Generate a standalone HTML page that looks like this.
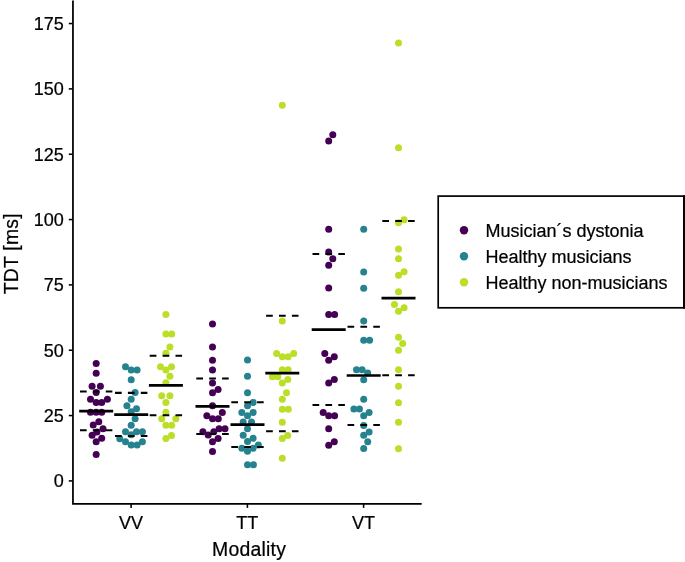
<!DOCTYPE html>
<html><head><meta charset="utf-8"><title>TDT by modality</title>
<style>
html,body{margin:0;padding:0;background:#fff;}
body{width:685px;height:562px;overflow:hidden;}
svg{display:block;will-change:transform;}
text{font-family:"Liberation Sans",sans-serif;fill:#000;stroke:#000;stroke-width:0.22px;}
.tk{font-size:18.05px;}
.tt{font-size:19.4px;letter-spacing:0.22px;}
.lg{font-size:18.0px;}
</style></head><body>
<svg width="685" height="562" viewBox="0 0 685 562">
<rect width="685" height="562" fill="#fff"/>
<g fill="#440154"><circle cx="96.17" cy="363.45" r="3.50"/><circle cx="96.17" cy="373.21" r="3.50"/><circle cx="92.10" cy="386.25" r="3.50"/><circle cx="100.40" cy="386.25" r="3.50"/><circle cx="96.17" cy="392.55" r="3.50"/><circle cx="90.50" cy="399.25" r="3.50"/><circle cx="96.17" cy="402.45" r="3.50"/><circle cx="101.70" cy="402.45" r="3.50"/><circle cx="107.40" cy="399.25" r="3.50"/><circle cx="90.50" cy="412.25" r="3.50"/><circle cx="96.17" cy="412.25" r="3.50"/><circle cx="101.70" cy="412.25" r="3.50"/><circle cx="98.80" cy="421.85" r="3.50"/><circle cx="93.20" cy="425.05" r="3.50"/><circle cx="103.00" cy="428.75" r="3.50"/><circle cx="96.90" cy="431.95" r="3.50"/><circle cx="92.10" cy="435.15" r="3.50"/><circle cx="101.70" cy="438.35" r="3.50"/><circle cx="96.17" cy="441.80" r="3.50"/><circle cx="96.17" cy="454.40" r="3.50"/></g>
<g fill="#26828E"><circle cx="125.50" cy="366.65" r="3.50"/><circle cx="131.20" cy="369.90" r="3.50"/><circle cx="137.10" cy="369.90" r="3.50"/><circle cx="131.20" cy="379.75" r="3.50"/><circle cx="135.10" cy="392.55" r="3.50"/><circle cx="131.20" cy="399.21" r="3.50"/><circle cx="126.90" cy="405.65" r="3.50"/><circle cx="136.50" cy="408.85" r="3.50"/><circle cx="131.20" cy="411.65" r="3.50"/><circle cx="135.10" cy="418.65" r="3.50"/><circle cx="131.20" cy="425.35" r="3.50"/><circle cx="125.50" cy="431.75" r="3.50"/><circle cx="131.20" cy="434.85" r="3.50"/><circle cx="136.50" cy="431.75" r="3.50"/><circle cx="142.40" cy="431.75" r="3.50"/><circle cx="119.80" cy="438.75" r="3.50"/><circle cx="125.50" cy="441.80" r="3.50"/><circle cx="131.20" cy="445.05" r="3.50"/><circle cx="137.10" cy="445.05" r="3.50"/><circle cx="142.40" cy="441.80" r="3.50"/></g>
<g fill="#BBDF27"><circle cx="165.90" cy="314.45" r="3.50"/><circle cx="165.90" cy="333.95" r="3.50"/><circle cx="171.70" cy="333.95" r="3.50"/><circle cx="169.90" cy="347.00" r="3.50"/><circle cx="165.90" cy="353.25" r="3.50"/><circle cx="160.50" cy="366.65" r="3.50"/><circle cx="171.50" cy="366.65" r="3.50"/><circle cx="165.90" cy="369.90" r="3.50"/><circle cx="169.90" cy="376.30" r="3.50"/><circle cx="165.90" cy="382.75" r="3.50"/><circle cx="161.70" cy="395.85" r="3.50"/><circle cx="169.90" cy="395.85" r="3.50"/><circle cx="165.90" cy="402.55" r="3.50"/><circle cx="165.90" cy="412.25" r="3.50"/><circle cx="161.70" cy="418.85" r="3.50"/><circle cx="175.80" cy="418.85" r="3.50"/><circle cx="165.90" cy="425.35" r="3.50"/><circle cx="171.70" cy="425.35" r="3.50"/><circle cx="171.50" cy="435.50" r="3.50"/><circle cx="165.90" cy="438.60" r="3.50"/></g>
<g fill="#440154"><circle cx="212.50" cy="324.05" r="3.50"/><circle cx="212.50" cy="346.95" r="3.50"/><circle cx="212.50" cy="360.15" r="3.50"/><circle cx="212.50" cy="369.95" r="3.50"/><circle cx="212.50" cy="383.10" r="3.50"/><circle cx="218.10" cy="389.55" r="3.50"/><circle cx="212.50" cy="392.75" r="3.50"/><circle cx="212.50" cy="405.85" r="3.50"/><circle cx="222.30" cy="412.45" r="3.50"/><circle cx="206.85" cy="415.65" r="3.50"/><circle cx="212.50" cy="418.85" r="3.50"/><circle cx="218.30" cy="418.85" r="3.50"/><circle cx="219.10" cy="428.65" r="3.50"/><circle cx="225.00" cy="428.65" r="3.50"/><circle cx="202.90" cy="431.85" r="3.50"/><circle cx="213.80" cy="431.85" r="3.50"/><circle cx="208.20" cy="435.05" r="3.50"/><circle cx="218.10" cy="438.55" r="3.50"/><circle cx="212.50" cy="441.75" r="3.50"/><circle cx="212.50" cy="451.55" r="3.50"/></g>
<g fill="#26828E"><circle cx="247.50" cy="360.05" r="3.50"/><circle cx="247.50" cy="376.30" r="3.50"/><circle cx="247.50" cy="392.65" r="3.50"/><circle cx="253.10" cy="402.50" r="3.50"/><circle cx="247.50" cy="405.70" r="3.50"/><circle cx="241.85" cy="412.45" r="3.50"/><circle cx="253.10" cy="412.45" r="3.50"/><circle cx="247.50" cy="415.65" r="3.50"/><circle cx="243.20" cy="422.05" r="3.50"/><circle cx="251.50" cy="422.05" r="3.50"/><circle cx="247.50" cy="428.75" r="3.50"/><circle cx="243.20" cy="435.15" r="3.50"/><circle cx="253.10" cy="438.35" r="3.50"/><circle cx="247.50" cy="441.55" r="3.50"/><circle cx="258.40" cy="444.95" r="3.50"/><circle cx="241.85" cy="448.15" r="3.50"/><circle cx="253.10" cy="448.15" r="3.50"/><circle cx="247.50" cy="451.35" r="3.50"/><circle cx="247.50" cy="464.70" r="3.50"/><circle cx="253.40" cy="464.70" r="3.50"/></g>
<g fill="#BBDF27"><circle cx="282.30" cy="105.25" r="3.50"/><circle cx="282.30" cy="320.95" r="3.50"/><circle cx="276.60" cy="353.45" r="3.50"/><circle cx="293.70" cy="353.45" r="3.50"/><circle cx="282.30" cy="356.65" r="3.50"/><circle cx="288.10" cy="356.65" r="3.50"/><circle cx="282.30" cy="369.70" r="3.50"/><circle cx="288.10" cy="369.70" r="3.50"/><circle cx="272.40" cy="376.65" r="3.50"/><circle cx="277.90" cy="376.65" r="3.50"/><circle cx="287.80" cy="379.55" r="3.50"/><circle cx="282.30" cy="383.05" r="3.50"/><circle cx="286.50" cy="392.65" r="3.50"/><circle cx="282.30" cy="399.35" r="3.50"/><circle cx="282.30" cy="409.25" r="3.50"/><circle cx="288.30" cy="409.25" r="3.50"/><circle cx="282.30" cy="422.15" r="3.50"/><circle cx="287.70" cy="435.50" r="3.50"/><circle cx="282.30" cy="438.60" r="3.50"/><circle cx="282.30" cy="458.25" r="3.50"/></g>
<g fill="#440154"><circle cx="332.80" cy="134.65" r="3.50"/><circle cx="328.70" cy="141.05" r="3.50"/><circle cx="328.70" cy="229.35" r="3.50"/><circle cx="328.70" cy="252.10" r="3.50"/><circle cx="332.80" cy="258.75" r="3.50"/><circle cx="328.70" cy="265.35" r="3.50"/><circle cx="328.70" cy="288.10" r="3.50"/><circle cx="328.70" cy="314.45" r="3.50"/><circle cx="334.60" cy="314.45" r="3.50"/><circle cx="324.80" cy="353.55" r="3.50"/><circle cx="334.30" cy="356.75" r="3.50"/><circle cx="328.70" cy="360.20" r="3.50"/><circle cx="334.30" cy="379.55" r="3.50"/><circle cx="328.70" cy="382.95" r="3.50"/><circle cx="323.20" cy="412.45" r="3.50"/><circle cx="328.70" cy="415.65" r="3.50"/><circle cx="334.60" cy="415.65" r="3.50"/><circle cx="328.70" cy="428.85" r="3.50"/><circle cx="334.30" cy="441.75" r="3.50"/><circle cx="328.70" cy="445.15" r="3.50"/></g>
<g fill="#26828E"><circle cx="363.70" cy="229.35" r="3.50"/><circle cx="363.70" cy="271.90" r="3.50"/><circle cx="363.70" cy="288.25" r="3.50"/><circle cx="363.70" cy="320.95" r="3.50"/><circle cx="363.70" cy="340.35" r="3.50"/><circle cx="369.60" cy="340.35" r="3.50"/><circle cx="356.50" cy="369.85" r="3.50"/><circle cx="362.10" cy="369.85" r="3.50"/><circle cx="367.70" cy="373.05" r="3.50"/><circle cx="363.70" cy="379.70" r="3.50"/><circle cx="363.70" cy="399.25" r="3.50"/><circle cx="353.90" cy="409.05" r="3.50"/><circle cx="359.45" cy="409.05" r="3.50"/><circle cx="369.10" cy="412.45" r="3.50"/><circle cx="363.70" cy="415.65" r="3.50"/><circle cx="363.70" cy="425.55" r="3.50"/><circle cx="369.10" cy="431.95" r="3.50"/><circle cx="363.70" cy="435.15" r="3.50"/><circle cx="367.70" cy="441.75" r="3.50"/><circle cx="363.70" cy="448.40" r="3.50"/></g>
<g fill="#BBDF27"><circle cx="398.50" cy="43.12" r="3.50"/><circle cx="398.50" cy="147.65" r="3.50"/><circle cx="404.10" cy="219.65" r="3.50"/><circle cx="398.50" cy="222.85" r="3.50"/><circle cx="398.50" cy="249.05" r="3.50"/><circle cx="398.50" cy="258.75" r="3.50"/><circle cx="404.10" cy="271.85" r="3.50"/><circle cx="398.50" cy="275.25" r="3.50"/><circle cx="398.50" cy="291.65" r="3.50"/><circle cx="394.45" cy="304.45" r="3.50"/><circle cx="404.10" cy="307.75" r="3.50"/><circle cx="398.50" cy="311.15" r="3.50"/><circle cx="398.50" cy="337.20" r="3.50"/><circle cx="402.70" cy="343.60" r="3.50"/><circle cx="398.50" cy="350.15" r="3.50"/><circle cx="398.50" cy="369.85" r="3.50"/><circle cx="398.50" cy="386.35" r="3.50"/><circle cx="398.50" cy="402.65" r="3.50"/><circle cx="398.50" cy="422.15" r="3.50"/><circle cx="398.50" cy="448.65" r="3.50"/></g>
<g stroke="#000" fill="none" transform="translate(0.1 0.15)">
<line x1="79.07" x2="113.07" y1="411.00" y2="411.00" stroke-width="2.7"/><line x1="79.87" x2="112.27" y1="391.40" y2="391.40" stroke-width="2.05" stroke-dasharray="6.7 6.2"/><line x1="79.87" x2="112.27" y1="430.00" y2="430.00" stroke-width="2.05" stroke-dasharray="6.7 6.2"/>
<line x1="114.10" x2="148.10" y1="414.50" y2="414.50" stroke-width="2.7"/><line x1="114.90" x2="147.30" y1="392.70" y2="392.70" stroke-width="2.05" stroke-dasharray="6.7 6.2"/><line x1="114.90" x2="147.30" y1="435.90" y2="435.90" stroke-width="2.05" stroke-dasharray="6.7 6.2"/>
<line x1="148.80" x2="182.80" y1="385.30" y2="385.30" stroke-width="2.7"/><line x1="149.60" x2="182.00" y1="355.60" y2="355.60" stroke-width="2.05" stroke-dasharray="6.7 6.2"/><line x1="149.60" x2="182.00" y1="415.05" y2="415.05" stroke-width="2.05" stroke-dasharray="6.7 6.2"/>
<line x1="195.40" x2="229.40" y1="406.20" y2="406.20" stroke-width="2.7"/><line x1="196.20" x2="228.60" y1="378.40" y2="378.40" stroke-width="2.05" stroke-dasharray="6.7 6.2"/><line x1="196.20" x2="228.60" y1="433.80" y2="433.80" stroke-width="2.05" stroke-dasharray="6.7 6.2"/>
<line x1="230.40" x2="264.40" y1="424.55" y2="424.55" stroke-width="2.7"/><line x1="231.20" x2="263.60" y1="402.00" y2="402.00" stroke-width="2.05" stroke-dasharray="6.7 6.2"/><line x1="231.20" x2="263.60" y1="446.80" y2="446.80" stroke-width="2.05" stroke-dasharray="6.7 6.2"/>
<line x1="265.20" x2="299.20" y1="373.00" y2="373.00" stroke-width="2.7"/><line x1="266.00" x2="298.40" y1="315.50" y2="315.50" stroke-width="2.05" stroke-dasharray="6.7 6.2"/><line x1="266.00" x2="298.40" y1="431.05" y2="431.05" stroke-width="2.05" stroke-dasharray="6.7 6.2"/>
<line x1="311.60" x2="345.60" y1="329.40" y2="329.40" stroke-width="2.7"/><line x1="312.40" x2="344.80" y1="253.80" y2="253.80" stroke-width="2.05" stroke-dasharray="6.7 6.2"/><line x1="312.40" x2="344.80" y1="404.80" y2="404.80" stroke-width="2.05" stroke-dasharray="6.7 6.2"/>
<line x1="346.60" x2="380.60" y1="375.35" y2="375.35" stroke-width="2.7"/><line x1="347.40" x2="379.80" y1="326.50" y2="326.50" stroke-width="2.05" stroke-dasharray="6.7 6.2"/><line x1="347.40" x2="379.80" y1="424.80" y2="424.80" stroke-width="2.05" stroke-dasharray="6.7 6.2"/>
<line x1="381.40" x2="415.40" y1="298.05" y2="298.05" stroke-width="2.7"/><line x1="382.20" x2="414.60" y1="220.85" y2="220.85" stroke-width="2.05" stroke-dasharray="6.7 6.2"/><line x1="382.20" x2="414.60" y1="375.10" y2="375.10" stroke-width="2.05" stroke-dasharray="6.7 6.2"/>
</g>
<g stroke="#000" stroke-width="1.55" fill="none">
<path d="M72.95 0.5V503.85H421.7" stroke-width="1.75"/>
<path d="M68.8 480.90H72.5"/><path d="M68.8 415.56H72.5"/><path d="M68.8 350.23H72.5"/><path d="M68.8 284.89H72.5"/><path d="M68.8 219.56H72.5"/><path d="M68.8 154.22H72.5"/><path d="M68.8 88.89H72.5"/><path d="M68.8 23.55H72.5"/><path d="M131.1 504V507.9"/><path d="M247.4 504V507.9"/><path d="M363.6 504V507.9"/>
</g>
<text class="tk" x="63.9" y="487.45" text-anchor="end">0</text><text class="tk" x="63.9" y="422.11" text-anchor="end">25</text><text class="tk" x="63.9" y="356.78" text-anchor="end">50</text><text class="tk" x="63.9" y="291.44" text-anchor="end">75</text><text class="tk" x="63.9" y="226.11" text-anchor="end">100</text><text class="tk" x="63.9" y="160.77" text-anchor="end">125</text><text class="tk" x="63.9" y="95.44" text-anchor="end">150</text><text class="tk" x="63.9" y="30.10" text-anchor="end">175</text>
<text class="tk" x="131.0" y="529.3" text-anchor="middle">VV</text><text class="tk" x="247.3" y="529.3" text-anchor="middle">TT</text><text class="tk" x="363.6" y="529.3" text-anchor="middle">VT</text>
<text class="tt" x="249.1" y="555.6" text-anchor="middle">Modality</text>
<text class="tt" transform="translate(17.8 253.7) rotate(-90)" text-anchor="middle">TDT [ms]</text>
<rect x="438.2" y="196.1" width="245.8" height="111.7" fill="#fff" stroke="#000" stroke-width="1.7"/>
<path d="M684 195.25V308.65" stroke="#000" stroke-width="2" fill="none"/>
<circle cx="464" cy="230.2" r="4.2" fill="#440154"/><text class="lg" x="485.5" y="236.9">Musician´s dystonia</text>
<circle cx="464" cy="256.3" r="4.2" fill="#26828E"/><text class="lg" x="485.5" y="263.0">Healthy musicians</text>
<circle cx="464" cy="282.3" r="4.2" fill="#BBDF27"/><text class="lg" x="485.5" y="289.0">Healthy non-musicians</text>
</svg>
</body></html>
